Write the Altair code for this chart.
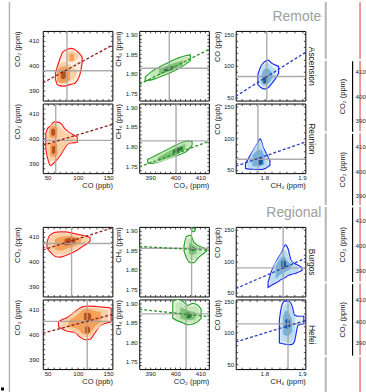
import altair as alt
import pandas as pd

FONT = "Liberation Sans"

GROUPS = ["Remote", "Regional"]
SITES = ["Ascension", "Reunion", "Burgos", "Hefei"]
X_TITLES = ["CO (ppb)", "CO₂ (ppm)", "CH₄ (ppm)"]
Y_TITLES = ["CO₂ (ppm)", "CH₄ (ppm)", "CO (ppb)"]
STRIP_TITLE = "CO₂ (ppm)"

CO_TICKS = [50, 60, 70, 80, 90, 100, 110, 120, 130, 140, 150]
CO2_TICKS = [388, 390, 392, 394, 396, 398, 400, 402, 404, 406, 408, 410, 412]
CH4_Y_TICKS = [1.74, 1.75, 1.76, 1.77, 1.78, 1.79, 1.8, 1.81, 1.82, 1.83, 1.84,
               1.85, 1.86, 1.87, 1.88, 1.89, 1.9]
CH4_X_TICKS = [1.74, 1.76, 1.78, 1.8, 1.82, 1.84, 1.86, 1.88, 1.9]
STRIP_TICKS = [390, 400, 410]

X_DOMAINS = [[42, 157], [385.6, 413.4], [1.724, 1.909]]
Y_DOMAINS = [
    [[386, 414], [1.732, 1.909], [44.8, 155.2]],
    [[386, 414], [1.732, 1.909], [44.5, 155]],
    [[386, 414], [1.731, 1.910], [43.5, 155]],
    [[386, 414], [1.731, 1.910], [42.5, 152.5]],
]
STRIP_DOMAINS = [[385.5, 414.5], [386.3, 415.3], [385.6, 415.2], [384.4, 417.4]]

# medians (x, y) per site, per column
MEDIANS = [
    [(82, 398), (397.6, 1.814), (1.8065, 83)],
    [(63.4, 399.2), (400.3, 1.814), (1.783, 66.6)],
    [(89.6, 407.3), (406.5, 1.855), (1.850, 89.3)],
    [(115.4, 405.2), (404.3, 1.873), (1.863, 114)],
]
# regression line end points (x0, y0, x1, y1)
REGRESSIONS = [
    [(42, 393.1, 157, 408.3), (385.6, 1.773, 413.4, 1.862), (1.724, 51.6, 1.909, 121)],
    [(42, 397.2, 157, 405.6), (385.6, 1.748, 413.4, 1.8125), (1.724, 55.5, 1.909, 93.9)],
    [(42, 404.7, 157, 413.6), (385.6, 1.8595, 413.4, 1.850), (1.724, 56, 1.909, 104.7)],
    [(42, 400.4, 157, 408), (385.6, 1.8845, 413.4, 1.866), (1.724, 85.3, 1.909, 119.2)],
]

# density bands: (level, part, x, low, high)
ASC_CO2_CO = [
    (0, 0, 63, 394.5, 397), (0, 0, 66, 392.5, 399.5), (0, 0, 70, 392, 402.5), (0, 0, 75, 391.8, 405.5),
    (0, 0, 82, 392, 406.5), (0, 0, 88, 392.5, 407), (0, 0, 95, 393, 406.5), (0, 0, 100, 394.5, 405.5),
    (0, 0, 104, 397, 404.5), (0, 0, 107, 401, 403.5),
    (1, 0, 65, 394.5, 397.5), (1, 0, 70, 393, 400.5), (1, 0, 78, 393, 401.5), (1, 0, 86, 393.8, 400.5),
    (1, 0, 94, 395, 399), (1, 0, 98, 396.5, 398),
    (1, 1, 83, 402, 405), (1, 1, 88, 401.5, 406), (1, 1, 95, 402, 405.5), (1, 1, 100, 402.8, 404.5),
    (2, 0, 66, 394, 398), (2, 0, 72, 393, 399.5), (2, 0, 80, 393.3, 399.8), (2, 0, 87, 394.5, 398.5),
    (2, 1, 86, 402, 404.5), (2, 1, 90, 401.8, 405), (2, 1, 94, 402.3, 404.3),
    (3, 0, 72, 395, 397.8), (3, 0, 76, 394.6, 398.3), (3, 0, 80, 395.2, 397.6),
]
ASC_CH4_CO2 = [
    (0, 0, 388, 1.783, 1.792), (0, 0, 390, 1.784, 1.803), (0, 0, 393, 1.790, 1.815), (0, 0, 397, 1.800, 1.828),
    (0, 0, 401, 1.812, 1.840), (0, 0, 404, 1.824, 1.846), (0, 0, 406, 1.834, 1.848),
    (1, 0, 390, 1.787, 1.800), (1, 0, 393, 1.792, 1.812), (1, 0, 397, 1.802, 1.825), (1, 0, 401, 1.814, 1.837),
    (1, 0, 404, 1.826, 1.843), (1, 0, 405.5, 1.833, 1.843),
    (2, 0, 393.5, 1.797, 1.811), (2, 0, 397, 1.805, 1.821), (2, 0, 400, 1.813, 1.828), (2, 0, 403, 1.821, 1.834),
    (3, 0, 395.5, 1.806, 1.815), (3, 0, 397.5, 1.807, 1.818), (3, 0, 399.5, 1.812, 1.819),
]
ASC_CO_CH4 = [
    (0, 0, 1.783, 70, 86), (0, 0, 1.790, 66, 98), (0, 0, 1.800, 63, 106), (0, 0, 1.810, 65, 109),
    (0, 0, 1.820, 72, 104), (0, 0, 1.830, 80, 101), (0, 0, 1.838, 88, 99),
    (1, 0, 1.787, 73, 84), (1, 0, 1.793, 69, 95), (1, 0, 1.800, 66, 102), (1, 0, 1.810, 68, 104),
    (1, 0, 1.820, 75, 99), (1, 0, 1.830, 83, 95),
    (2, 0, 1.793, 72, 86), (2, 0, 1.800, 70, 94), (2, 0, 1.808, 71, 96), (2, 0, 1.816, 76, 92), (2, 0, 1.822, 81, 88),
    (3, 0, 1.797, 73, 82), (3, 0, 1.802, 72, 84), (3, 0, 1.808, 74, 82),
]
REU_CO2_CO = [
    (0, 0, 47, 396, 402), (0, 0, 50, 392, 404), (0, 0, 55, 389, 405), (0, 0, 60, 390, 406.5),
    (0, 0, 66, 391.5, 406.5), (0, 0, 72, 393.5, 406), (0, 0, 78, 396, 404), (0, 0, 85, 398, 402.5),
    (0, 0, 92, 398.2, 401.5), (0, 0, 99, 398.5, 400.5),
    (1, 0, 49, 395, 401), (1, 0, 54, 391, 404.5), (1, 0, 60, 391, 406), (1, 0, 66, 392.5, 405.5),
    (1, 0, 72, 394, 404), (1, 0, 80, 397, 402.5), (1, 0, 90, 398.5, 401), (1, 0, 96, 399, 400.2),
    (2, 0, 53, 400.5, 404), (2, 0, 59, 400, 405), (2, 0, 66, 400.5, 404),
    (2, 1, 54, 393, 397.5), (2, 1, 60, 392.5, 398.5), (2, 1, 66, 393.5, 397.5),
    (3, 0, 56, 401.5, 403.5), (3, 0, 59, 401, 404), (3, 0, 63, 401.5, 403.2),
    (3, 1, 57, 394, 396.5), (3, 1, 60.5, 393.8, 397), (3, 1, 64, 394.5, 396),
]
REU_CH4_CO2 = [
    (0, 0, 389, 1.758, 1.767), (0, 0, 391, 1.757, 1.773), (0, 0, 395, 1.764, 1.786), (0, 0, 399, 1.773, 1.799),
    (0, 0, 402, 1.780, 1.808), (0, 0, 405, 1.790, 1.814), (0, 0, 406.7, 1.803, 1.813),
    (1, 0, 390, 1.759, 1.767), (1, 0, 393, 1.760, 1.778), (1, 0, 397, 1.767, 1.791), (1, 0, 401, 1.778, 1.804),
    (1, 0, 404.5, 1.792, 1.811), (1, 0, 406, 1.802, 1.811),
    (2, 0, 393, 1.762, 1.772), (2, 0, 397, 1.770, 1.786), (2, 0, 401, 1.781, 1.799), (2, 0, 404, 1.793, 1.806),
    (3, 0, 399, 1.782, 1.790), (3, 0, 401.5, 1.787, 1.797), (3, 0, 403, 1.792, 1.799),
]
REU_CO_CH4 = [
    (0, 0, 1.750, 52, 60), (0, 0, 1.758, 51, 68), (0, 0, 1.770, 51, 80), (0, 0, 1.780, 50.5, 90),
    (0, 0, 1.789, 50.5, 99), (0, 0, 1.798, 51, 84), (0, 0, 1.806, 53, 75), (0, 0, 1.815, 57, 64),
    (1, 0, 1.755, 54, 60), (1, 0, 1.762, 52.5, 70), (1, 0, 1.772, 52, 82), (1, 0, 1.782, 52, 92),
    (1, 0, 1.790, 52, 95), (1, 0, 1.800, 53, 80), (1, 0, 1.810, 56, 68),
    (2, 0, 1.768, 56, 72), (2, 0, 1.780, 55, 80), (2, 0, 1.790, 56, 82), (2, 0, 1.800, 58, 72),
    (3, 0, 1.784, 58, 68), (3, 0, 1.790, 58, 70), (3, 0, 1.796, 60, 66),
]
BUR_CO2_CO = [
    (0, 0, 49, 405.5, 407.5), (0, 0, 52, 404.5, 410), (0, 0, 56, 403.5, 411), (0, 0, 62, 402.2, 411.8),
    (0, 0, 70, 401.8, 412), (0, 0, 80, 402.5, 412), (0, 0, 90, 403.5, 411.5), (0, 0, 100, 404.8, 411),
    (0, 0, 108, 406.2, 410.6), (0, 0, 115, 407.2, 410.2), (0, 0, 120, 408.2, 409.8),
    (1, 0, 51, 405.5, 408), (1, 0, 56, 404.3, 410.3), (1, 0, 64, 403, 411.2), (1, 0, 75, 402.8, 411.4),
    (1, 0, 88, 404, 411), (1, 0, 100, 405.5, 410.5), (1, 0, 110, 407, 410), (1, 0, 116, 408, 409.5),
    (2, 0, 62, 405, 409), (2, 0, 72, 404.5, 410), (2, 0, 85, 405.5, 410.3), (2, 0, 97, 406.5, 409.8),
    (2, 0, 105, 407.5, 409.3),
    (3, 0, 78, 406.5, 409), (3, 0, 88, 406.8, 409.6), (3, 0, 96, 407.5, 409.2),
]
HEF_CO2_CO = [
    (0, 0, 68, 403, 405), (0, 0, 75, 402, 406), (0, 0, 83, 401.2, 406.8), (0, 0, 95, 400.8, 409),
    (0, 0, 103, 399, 410.5), (0, 0, 112, 397.8, 411.2), (0, 0, 120, 398, 411.3), (0, 0, 128, 400.5, 411.2),
    (0, 0, 137, 403.5, 411), (0, 0, 147, 404.5, 410.8), (0, 0, 155, 405, 410.5),
    (1, 0, 72, 403.3, 405), (1, 0, 80, 402.3, 406), (1, 0, 90, 401.5, 408), (1, 0, 100, 400, 409.8),
    (1, 0, 110, 398.8, 410.6), (1, 0, 120, 399, 410.8), (1, 0, 130, 401.5, 410.5), (1, 0, 140, 404, 410.2),
    (1, 0, 150, 405, 409.5),
    (2, 0, 85, 403, 405.5), (2, 0, 100, 402, 408), (2, 0, 110, 400, 410), (2, 0, 118, 400, 410.2),
    (2, 0, 128, 403, 409.5), (2, 0, 138, 405, 409),
    (3, 0, 110, 405.8, 408.5), (3, 0, 116, 405.5, 408.8), (3, 0, 122, 406, 408.2),
    (3, 1, 112, 400.5, 403), (3, 1, 116, 400.3, 403.2), (3, 1, 120, 401, 402.5),
]
BUR_CH4_CO2 = [
    (0, 0, 403.5, 1.848, 1.862), (0, 0, 404.5, 1.830, 1.885), (0, 0, 406, 1.818, 1.888),
    (0, 0, 407.5, 1.818, 1.870), (0, 0, 409, 1.830, 1.862), (0, 0, 411, 1.840, 1.857),
    (0, 0, 412.5, 1.848, 1.852),
    (0, 1, 406.5, 1.900, 1.906), (0, 1, 407.2, 1.898, 1.907), (0, 1, 407.9, 1.900, 1.906),
    (1, 0, 404.5, 1.838, 1.878), (1, 0, 406, 1.825, 1.882), (1, 0, 407.5, 1.825, 1.866),
    (1, 0, 409, 1.835, 1.860), (1, 0, 410.5, 1.843, 1.856),
    (2, 0, 405.5, 1.840, 1.870), (2, 0, 407, 1.838, 1.864), (2, 0, 408.5, 1.843, 1.858),
    (3, 0, 406, 1.848, 1.860), (3, 0, 407.5, 1.847, 1.858),
]
HEF_CH4_CO2 = [
    (0, 0, 399, 1.862, 1.905), (0, 0, 401, 1.855, 1.910), (0, 0, 403, 1.850, 1.905), (0, 0, 405, 1.845, 1.895),
    (0, 0, 407, 1.847, 1.900), (0, 0, 409, 1.853, 1.895), (0, 0, 410.3, 1.862, 1.885),
    (1, 0, 400, 1.862, 1.900), (1, 0, 402, 1.856, 1.903), (1, 0, 404, 1.852, 1.895), (1, 0, 406, 1.850, 1.892),
    (1, 0, 408, 1.853, 1.893), (1, 0, 409.5, 1.860, 1.885),
    (2, 0, 402, 1.862, 1.890), (2, 0, 404, 1.858, 1.885), (2, 0, 406, 1.857, 1.880), (2, 0, 408, 1.860, 1.878),
    (3, 0, 404, 1.863, 1.877), (3, 0, 405.5, 1.861, 1.876), (3, 0, 406.5, 1.864, 1.872),
]
BUR_CO_CH4 = [
    (0, 0, 1.810, 58, 66), (0, 0, 1.820, 62, 85), (0, 0, 1.833, 66, 101), (0, 0, 1.846, 71, 114),
    (0, 0, 1.856, 74, 126), (0, 0, 1.863, 77, 120), (0, 0, 1.872, 79, 100), (0, 0, 1.885, 81, 95),
    (0, 0, 1.900, 85, 90),
    (1, 0, 1.815, 62, 72), (1, 0, 1.825, 65, 92), (1, 0, 1.838, 70, 105), (1, 0, 1.848, 73, 115),
    (1, 0, 1.856, 76, 118), (1, 0, 1.866, 79, 105), (1, 0, 1.878, 81, 96), (1, 0, 1.890, 84, 92),
    (2, 0, 1.830, 72, 92), (2, 0, 1.842, 78, 104), (2, 0, 1.852, 82, 108), (2, 0, 1.862, 85, 100),
    (2, 0, 1.872, 88, 95),
    (3, 0, 1.845, 88, 100), (3, 0, 1.852, 88, 102), (3, 0, 1.858, 90, 98),
]
HEF_CO_CH4 = [
    (0, 0, 1.840, 84, 120), (0, 0, 1.846, 83, 142), (0, 0, 1.854, 82, 150), (0, 0, 1.865, 81, 150),
    (0, 0, 1.875, 82, 140), (0, 0, 1.880, 86, 128), (0, 0, 1.890, 112, 126), (0, 0, 1.905, 114, 126),
    (1, 0, 1.843, 88, 120), (1, 0, 1.850, 86, 140), (1, 0, 1.858, 85, 146), (1, 0, 1.868, 84, 146),
    (1, 0, 1.876, 87, 132), (1, 0, 1.882, 100, 124),
    (2, 0, 1.850, 98, 125), (2, 0, 1.858, 95, 135), (2, 0, 1.866, 96, 130), (2, 0, 1.874, 102, 120),
    (3, 0, 1.856, 108, 120), (3, 0, 1.862, 106, 122), (3, 0, 1.868, 110, 118),
]
BANDS = [
    [ASC_CO2_CO, ASC_CH4_CO2, ASC_CO_CH4],
    [REU_CO2_CO, REU_CH4_CO2, REU_CO_CH4],
    [BUR_CO2_CO, BUR_CH4_CO2, BUR_CO_CH4],
    [HEF_CO2_CO, HEF_CH4_CO2, HEF_CO_CH4],
]

FILLS = [
    ["#fdebdb", "#fcd0a6", "#f5a15c", "#b9521a"],
    ["#eaf6e6", "#c4e6b9", "#7cc576", "#2a7f35"],
    ["#e8f2fa", "#bcdcf0", "#78b2dc", "#1c5b9c"],
]
OUTLINES = ["#ff1f1f", "#27a327", "#1c2ef2"]
REG_COLORS = ["#8e1f1f", "#2f8f2f", "#2a3fb5"]

X_TICKS = [CO_TICKS, CO2_TICKS, CH4_X_TICKS]
Y_TICKS = [CO2_TICKS, CH4_Y_TICKS, CO_TICKS]
X_FMT = ["d", "d", ".2f"]
Y_FMT = ["d", ".2f", "d"]
X_LEXPR = ["datum.value % 50 == 0 ? datum.label : ''",
           "datum.value % 10 == 0 ? datum.label : ''",
           "test(/0$/, datum.label) ? format(datum.value, '.1f') : ''"]
Y_LEXPR = ["datum.value % 10 == 0 ? datum.label : ''",
           "test(/[05]$/, datum.label) ? datum.label : ''",
           "datum.value % 50 == 0 ? datum.label : ''"]
Y_LABEL_PAD = [4, 2, 2]
Y_TITLE_PAD = [7, 3, 2]

W = 70
H = 70
TS = 2


def panel(r, c):
    df = pd.DataFrame(BANDS[r][c], columns=["level", "part", "x", "lo", "hi"])
    xs = alt.Scale(domain=X_DOMAINS[c], nice=False, zero=False)
    ys = alt.Scale(domain=Y_DOMAINS[r][c], nice=False, zero=False)
    bottom = r in (1, 3)
    xkw = dict(orient="bottom", values=X_TICKS[c], format=X_FMT[c], labelExpr=X_LEXPR[c],
               labels=bottom, offset=-TS, tickSize=TS, labelFlush=False, labelOverlap=False,
               labelPadding=1, domain=False, grid=False, minExtent=0)
    if bottom:
        xkw.update(title=X_TITLES[c], titleAnchor="end", titlePadding=1)
    else:
        xkw.update(title=None)
    x_axis = alt.Axis(**xkw)
    y_axis = alt.Axis(orient="left", values=Y_TICKS[c], format=Y_FMT[c], labelExpr=Y_LEXPR[c],
                      offset=-TS, tickSize=TS, labelFlush=False, labelOverlap=False,
                      labelPadding=Y_LABEL_PAD[c], title=Y_TITLES[c], titleAnchor="end",
                      titlePadding=Y_TITLE_PAD[c], domain=False, grid=False, minExtent=0)
    top_axis = alt.Axis(orient="top", values=X_TICKS[c], labels=False, offset=-TS, tickSize=TS,
                        title=None, domain=False, grid=False, minExtent=0)
    rkw = dict(orient="right", values=Y_TICKS[c], labels=False, offset=-TS, tickSize=TS,
               domain=False, grid=False, minExtent=0)
    if c == 2:
        rkw.update(title=SITES[r], titleAngle=90, titlePadding=1, titleFontSize=8.5)
    else:
        rkw.update(title=None)
    right_axis = alt.Axis(**rkw)

    base = alt.Chart(df)
    layers = []
    for lv in range(4):
        mk = dict(interpolate="monotone", clip=True, fill=FILLS[c][lv], opacity=1)
        if lv == 0:
            mk.update(stroke=OUTLINES[c], strokeWidth=1.2)
        layers.append(
            base.transform_filter(alt.datum.level == lv).mark_area(**mk).encode(
                x=alt.X("x:Q", scale=xs, axis=x_axis if lv == 0 else None),
                y=alt.Y("lo:Q", scale=ys, axis=y_axis if lv == 0 else None),
                y2="hi:Q",
                detail="part:N",
            )
        )
    mx, my = MEDIANS[r][c]
    med = alt.Chart(pd.DataFrame({"mx": [mx], "my": [my]}))
    layers.append(med.mark_rule(color="#a3a3a3", strokeWidth=1.4, opacity=0.9).encode(
        x=alt.X("mx:Q", scale=xs, axis=None)))
    layers.append(med.mark_rule(color="#a3a3a3", strokeWidth=1.4, opacity=0.9).encode(
        y=alt.Y("my:Q", scale=ys, axis=None)))
    x0, y0, x1, y1 = REGRESSIONS[r][c]
    reg = alt.Chart(pd.DataFrame({"x": [x0, x1], "y": [y0, y1]}))
    layers.append(reg.mark_line(color=REG_COLORS[c], strokeDash=[3, 2], strokeWidth=1.3, clip=True).encode(
        x=alt.X("x:Q", scale=xs, axis=top_axis),
        y=alt.Y("y:Q", scale=ys, axis=right_axis),
    ))
    return alt.layer(*layers).resolve_scale(x="shared", y="shared").resolve_axis(
        x="independent", y="independent"
    ).properties(width=W, height=H, view=alt.ViewBackground(stroke="black", strokeWidth=1))


def group(g):
    charts = [panel(r, c) for r in (2 * g, 2 * g + 1) for c in range(3)]
    return alt.concat(*charts, columns=3, spacing={"row": 3, "column": 27}, bounds="flush")


def group_title(i, h, yb):
    return alt.Chart(pd.DataFrame({"t": [GROUPS[i]]})).mark_text(
        align="right", baseline="alphabetic", fontSize=14, color="#a0a0a0"
    ).encode(text="t:N", x=alt.value(280), y=alt.value(yb)).properties(width=280, height=h)


one = pd.DataFrame({"k": [0]})

SX_GRAY = 2.5
SX_RED = 37
SW = 29


def strip_rules(h):
    g = alt.Chart(one).mark_rule(color="#b4b4b4", strokeWidth=2).encode(
        x=alt.value(SX_GRAY), y=alt.value(0), y2=alt.value(h))
    rd = alt.Chart(one).mark_rule(color="#d23a3a", strokeWidth=1).encode(
        x=alt.value(SX_RED), y=alt.value(0), y2=alt.value(h))
    return [g, rd]


def strip_spacer(h):
    return alt.layer(*strip_rules(h)).properties(width=SW, height=h)


def strip_axis(i, h):
    pts = alt.Chart(pd.DataFrame({"v": STRIP_TICKS})).mark_point(opacity=0).encode(
        y=alt.Y("v:Q", scale=alt.Scale(domain=STRIP_DOMAINS[i], nice=False, zero=False),
                axis=alt.Axis(orient="right", values=STRIP_TICKS, title=STRIP_TITLE, titleAngle=270,
                              titleX=-10, titleBaseline="middle", domain=True, domainColor="black",
                              domainWidth=1.2, ticks=False, labelPadding=3, grid=False,
                              labelFlush=False, labelOverlap=False))
    )
    return alt.layer(*strip_rules(h), pts).properties(width=SW, height=h)


left = alt.layer(
    alt.Chart(one).mark_rule(color="#b4b4b4", strokeWidth=1.5).encode(
        x=alt.value(9.5), y=alt.value(0), y2=alt.value(392)),
    alt.Chart(one).mark_square(color="black", size=9, opacity=1).encode(
        x=alt.value(2.5), y=alt.value(389)),
).properties(width=11, height=392)

main = alt.vconcat(group_title(0, 18, 19), group(0), group_title(1, 23, 22), group(1), spacing=5)

right = alt.vconcat(
    strip_spacer(57), strip_axis(0, 71), strip_axis(1, 72), strip_axis(2, 75), strip_axis(3, 72),
    strip_spacer(45), spacing=0)

chart = alt.hconcat(left, main, right, spacing=2, padding=0).configure(
    font=FONT
).configure_view(stroke=None).configure_axis(
    labelFontSize=6.2, titleFontSize=7.5, labelColor="#222222", titleColor="#222222",
    titleFontWeight="normal", tickColor="#222222", tickWidth=0.8, labelFont=FONT, titleFont=FONT
)

chart.save("out.html", embed_options={"renderer": "svg", "actions": False})
